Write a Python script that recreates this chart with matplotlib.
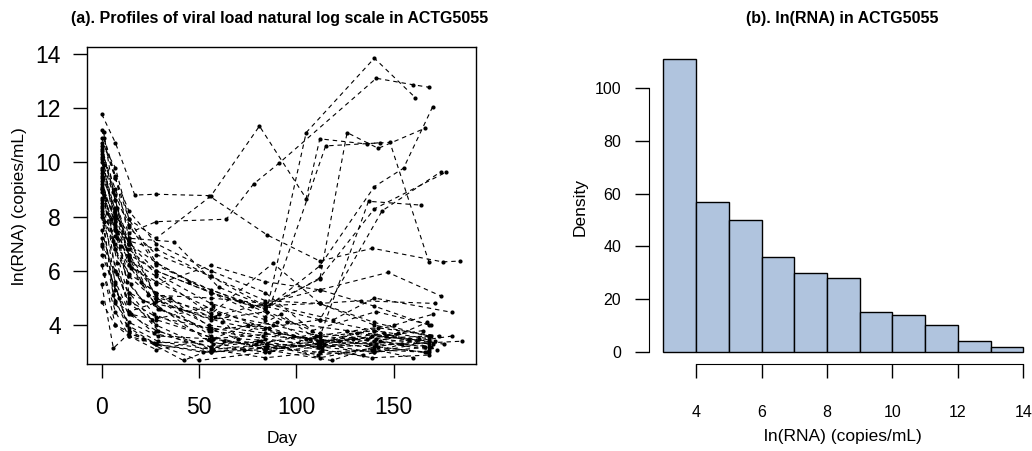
import matplotlib.pyplot as plt

plt.rcParams['font.family'] = ['Liberation Sans', 'DejaVu Sans']

# (a) visit days and ln(RNA) per subject
subject_days = [
    [0, 7, 17, 28, 55, 85, 112, 139, 175, 184],
    [1, 7, 14, 28, 56, 81, 105, 112, 136, 143],
    [0, 7, 14, 28, 56, 84, 105, 140, 161],
    [0, 7, 14, 28, 56, 84, 112, 126, 142, 166],
    [0, 7, 14, 28, 64, 78, 91, 141, 160, 168],
    [0, 7, 14, 28, 56, 84, 115, 148, 168],
    [0, 7, 14, 28, 56, 84, 112, 140, 155, 170],
    [0, 7, 14, 28, 56, 84, 112, 137, 164],
    [0, 7, 14, 28, 56, 84, 112, 140, 177],
    [0, 7, 14, 28, 56, 84, 112, 144, 174],
    [0, 7, 14, 28, 56, 84, 112, 147, 174],
    [0, 7, 14, 37, 60, 84, 112, 140, 168],
    [0, 7, 14, 28, 56, 77, 112, 133, 171],
    [0, 7, 14, 28, 56, 84, 119, 140, 180],
    [0, 7, 14, 28, 56, 84, 112, 140, 168],
    [0, 8, 14, 28, 56, 88, 112, 140, 168],
    [0, 7, 14, 28, 56, 84, 112, 140, 168],
    [0, 7, 14, 28, 56, 84, 112, 140, 168],
    [1, 6, 13, 27, 57, 80, 111, 139, 167],
    [0, 8, 15, 29, 55, 90, 113, 141, 170],
    [0, 7, 14, 28, 56, 84, 112, 134, 168],
    [1, 7, 13, 27, 57, 75, 111, 138, 169],
    [0, 6, 14, 29, 56, 85, 112, 142, 166],
    [0, 7, 15, 21, 58, 86, 105, 140, 172],
    [0, 8, 14, 27, 56, 82, 113, 139, 168],
    [1, 7, 14, 28, 55, 84, 112, 131, 176],
    [0, 7, 13, 29, 57, 92, 112, 146, 165],
    [0, 6, 14, 28, 50, 84, 111, 143, 169],
    [0, 7, 15, 28, 63, 85, 112, 140, 160],
    [1, 8, 14, 26, 57, 70, 114, 139, 171],
    [0, 7, 14, 35, 56, 83, 107, 141, 167],
    [0, 7, 14, 29, 55, 79, 112, 136, 168],
    [0, 7, 14, 28, 56, 86, 110, 150, 170],
    [0, 9, 14, 28, 52, 84, 118, 140, 168],
    [0, 7, 14, 28, 57, 91, 113, 142, 173],
    [1, 7, 21, 42, 56, 85, 112, 140, 163],
    [0, 6, 14, 27, 56, 73, 111, 129, 166],
    [0, 7, 14, 28, 56, 84, 112, 145, 168],
    [0, 7, 14, 28, 55, 84, 112, 140, 180],
    [0, 7, 14, 24, 60, 88, 112, 140, 168],
    [0, 8, 14, 28, 56, 85, 108, 141, 169],
    [0, 7, 14, 30, 56, 84, 112, 154, 185],
    [0, 5, 10, 20, 40, 62, 98, 122, 152],
    [0, 7, 14, 28, 45, 71, 95, 126, 158],
]
subject_lnrna = [
    [11.77, 10.72, 8.79, 8.82, 8.77, 7.32, 6.36, 6.83, 6.33, 6.36],
    [10.9, 9.4, 7.9, 7.2, 8.75, 11.33, 8.66, 10.86, 10.67, 10.72],
    [9.8, 8.1, 7.0, 6.3, 5.2, 4.3, 11.09, 13.83, 12.38],
    [10.3, 8.8, 7.6, 6.6, 5.8, 4.7, 5.7, 11.09, 10.51, 11.25],
    [9.0, 8.0, 7.4, 7.81, 7.9, 9.2, 9.96, 13.09, 12.85, 12.76],
    [10.6, 8.6, 6.8, 5.9, 4.8, 4.2, 10.6, 10.73, 6.33],
    [10.4, 9.0, 7.7, 6.2, 5.3, 4.6, 6.18, 9.1, 9.78, 12.05],
    [10.9, 9.4, 8.2, 7.0, 6.0, 5.2, 3.57, 8.56, 8.42],
    [9.3, 7.7, 6.6, 6.0, 5.2, 4.6, 5.74, 8.28, 9.64],
    [8.4, 7.0, 6.2, 5.6, 4.6, 3.9, 4.2, 8.21, 9.64],
    [8.2, 6.8, 5.9, 5.2, 4.3, 4.8, 5.3, 5.94, 5.08],
    [8.1, 7.3, 7.2, 7.07, 5.4, 4.7, 4.2, 3.8, 3.5],
    [10.0, 8.2, 7.0, 6.0, 5.2, 4.7, 4.8, 4.9, 4.8],
    [9.7, 8.0, 6.6, 5.1, 5.0, 4.8, 4.2, 5.0, 4.47],
    [9.2, 7.8, 6.2, 5.5, 6.2, 5.6, 5.3, 4.7, 4.0],
    [8.9, 7.4, 6.4, 5.8, 4.4, 6.28, 4.8, 4.0, 3.6],
    [8.5, 7.6, 7.1, 6.8, 5.8, 4.9, 4.8, 4.1, 3.6],
    [11.2, 9.5, 7.2, 5.0, 3.6, 3.1, 3.3, 3.0, 3.2],
    [11.1, 8.9, 6.8, 4.8, 3.3, 3.4, 2.9, 3.1, 3.0],
    [10.5, 8.3, 6.1, 4.6, 3.8, 4.1, 3.2, 3.5, 3.3],
    [10.2, 7.9, 5.2, 4.0, 3.1, 2.8, 3.0, 2.9, 3.4],
    [9.9, 7.5, 5.6, 4.4, 3.5, 4.0, 3.4, 3.3, 3.6],
    [9.6, 7.1, 5.0, 3.8, 3.0, 3.3, 2.8, 3.2, 3.0],
    [9.4, 6.8, 5.5, 4.9, 4.3, 3.9, 3.5, 3.8, 3.1],
    [9.1, 6.3, 4.5, 3.7, 3.2, 3.4, 3.1, 2.8, 2.9],
    [8.8, 6.0, 4.9, 4.3, 3.9, 3.1, 3.3, 3.7, 3.3],
    [8.6, 5.5, 4.0, 3.4, 3.1, 4.4, 3.4, 3.6, 3.8],
    [8.3, 5.1, 3.8, 3.3, 2.7, 3.0, 3.2, 3.4, 3.2],
    [8.0, 4.9, 4.4, 4.2, 3.4, 3.2, 3.0, 3.1, 2.8],
    [7.8, 5.9, 4.8, 4.2, 4.7, 3.5, 3.3, 3.6, 3.4],
    [7.5, 5.6, 4.5, 5.0, 3.9, 3.6, 3.5, 3.3, 4.1],
    [7.2, 4.8, 4.1, 3.6, 3.5, 3.3, 3.7, 3.5, 3.6],
    [6.9, 5.3, 4.4, 3.8, 3.2, 3.0, 3.6, 4.0, 4.4],
    [6.6, 5.0, 3.9, 3.3, 3.0, 3.1, 2.7, 3.2, 3.0],
    [6.2, 4.5, 3.6, 3.1, 3.5, 3.7, 3.4, 3.9, 3.6],
    [5.9, 4.0, 3.5, 2.7, 3.1, 3.3, 3.2, 3.0, 3.5],
    [5.5, 3.15, 3.7, 3.35, 3.4, 3.1, 3.3, 3.5, 3.2],
    [4.85, 4.0, 3.6, 3.3, 3.0, 3.2, 3.4, 3.7, 3.3],
    [10.1, 8.6, 7.0, 5.0, 4.0, 3.7, 3.3, 3.2, 3.6],
    [9.5, 8.3, 6.5, 5.1, 4.4, 4.0, 3.6, 3.4, 3.1],
    [8.7, 7.2, 5.8, 4.9, 4.2, 4.5, 3.8, 4.5, 4.0],
    [7.0, 6.0, 5.2, 4.6, 3.8, 3.5, 3.2, 3.3, 3.41],
    [9.0, 7.9, 6.9, 5.6, 4.6, 4.1, 3.6, 3.4, 3.7],
    [10.7, 9.8, 7.9, 6.3, 5.6, 4.9, 4.1, 3.8, 3.5],
]

# (b) histogram counts of ln(RNA)
bin_edges = [3, 4, 5, 6, 7, 8, 9, 10, 11, 12, 13, 14]
bin_counts = [111, 57, 50, 36, 30, 28, 15, 14, 10, 4, 2]

W, H = 1032, 451
fig = plt.figure(figsize=(W / 100, H / 100), dpi=100)

# left panel: spaghetti plot
ax1 = fig.add_axes([87.3 / W, 1 - 364 / H, (476 - 87.3) / W, (364 - 47.3) / H])
for d, v in zip(subject_days, subject_lnrna):
    ax1.plot(d, v, color="black", lw=0.8, linestyle=(0, (4, 3.5)),
             marker="o", markersize=3, markeredgewidth=0)
ax1.set_xlim(-7.4, 192.2)
ax1.set_ylim(2.57, 14.23)
ax1.set_xticks([0, 50, 100, 150])
ax1.set_yticks([4, 6, 8, 10, 12, 14])
ax1.tick_params(direction="out", length=10, width=1, labelsize=16.5)
ax1.tick_params(axis="y", pad=9)
ax1.tick_params(axis="x", pad=13)
for s in ax1.spines.values():
    s.set_linewidth(1)

# right panel: histogram
ax2 = fig.add_axes([649 / W, 1 - 363.5 / H, 388.7 / W, (363.5 - 47.6) / H])
ax2.bar(bin_edges[:-1], bin_counts, width=1, align="edge",
        color="#B0C4DE", edgecolor="black", linewidth=1)
ax2.set_xlim(2.56, 14.44)
ax2.set_ylim(-4.44, 115.44)
ax2.set_xticks([4, 6, 8, 10, 12, 14])
ax2.set_yticks([0, 20, 40, 60, 80, 100])
ax2.spines["top"].set_visible(False)
ax2.spines["right"].set_visible(False)
ax2.spines["left"].set_bounds(0, 100)
ax2.spines["bottom"].set_bounds(4, 14)
ax2.tick_params(direction="out", length=10, width=1, labelsize=11.5)
ax2.tick_params(axis="y", pad=10)
ax2.tick_params(axis="x", pad=20)

# titles and axis labels
fig.text(279.5 / W, 1 - 18 / H, "(a). Profiles of viral load natural log scale in ACTG5055",
         ha="center", va="center", fontsize=11.5, fontweight="bold")
fig.text(842 / W, 1 - 18 / H, "(b). ln(RNA) in ACTG5055",
         ha="center", va="center", fontsize=11.5, fontweight="bold")
fig.text(281.7 / W, 1 - 439 / H, "Day", ha="center", va="center", fontsize=12.5)
fig.text(20 / W, 1 - 206 / H, "ln(RNA) (copies/mL)", ha="center", va="center",
         rotation=90, fontsize=12.5)
fig.text(843 / W, 1 - 437 / H, "ln(RNA) (copies/mL)", ha="center", va="center", fontsize=12.5)
fig.text(580 / W, 1 - 207 / H, "Density", ha="center", va="center",
         rotation=90, fontsize=12.5)

fig.savefig("out.png", dpi=100)
